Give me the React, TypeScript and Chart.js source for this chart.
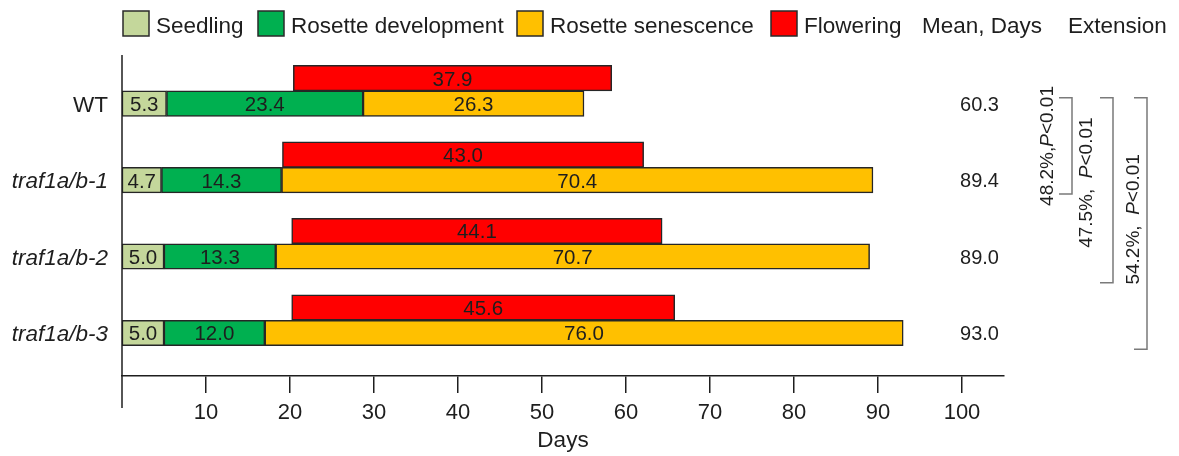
import React, { useEffect, useRef } from "react";
import { Chart, registerables } from "chart.js";

Chart.register(...registerables);

// ---------------- data ----------------
const genotypes = ["WT", "traf1a/b-1", "traf1a/b-2", "traf1a/b-3"];
const genotypeItalic = [false, true, true, true];
const seedlingDays = [5.3, 4.7, 5.0, 5.0];
const rosetteDevelopmentDays = [23.4, 14.3, 13.3, 12.0];
const rosetteSenescenceDays = [26.3, 70.4, 70.7, 76.0];
const floweringStart = [20.4, 19.1, 20.2, 20.2];
const floweringDays = [37.9, 43.0, 44.1, 45.6];
const meanDays = [60.3, 89.4, 89.0, 93.0];
const xTickValues = [10, 20, 30, 40, 50, 60, 70, 80, 90, 100];
const legendLabels = ["Seedling", "Rosette development", "Rosette senescence", "Flowering"];
const headerLabels = ["Mean, Days", "Extension"];
const extensionPercent = ["48.2%,", "47.5%,  ", "54.2%,  "];
const extensionP = ["P", "P", "P"];
const extensionRest = ["<0.01", "<0.01", "<0.01"];
const axisTitle = "Days";

// ---------------- style / layout ----------------
const FONT = '"Liberation Sans", Arial, Helvetica, sans-serif';
const INK = "#1e1e1e";
const BRACKET_COLOR = "#7a7a7a";
const COLORS = {
  seedling: "#C4D79B",
  development: "#00B050",
  senescence: "#FFC000",
  flowering: "#FF0000",
};
const legendColors = [COLORS.seedling, COLORS.development, COLORS.senescence, COLORS.flowering];
const LEGEND_BOX_X = [123, 258, 517, 771];
const HEADER_X = [922, 1068];
const BAR_THICKNESS = 25.5;
// bracket layout: y in row units (y-scale), x offsets from chart area right edge
const BRACKETS = [
  { top: 0.09, bottom: 1.35, lineDx: 68, textDx: 44, textY: 0.72 },
  { top: 0.09, bottom: 2.51, lineDx: 109, textDx: 83, textY: 1.2 },
  { top: 0.09, bottom: 3.38, lineDx: 143, textDx: 130, textY: 1.68 },
];

const font = (size: number, italic = false) => `${italic ? "italic " : ""}${size}px ${FONT}`;

function drawRotated(ctx: CanvasRenderingContext2D, cx: number, cy: number, parts: { text: string; italic: boolean }[], size: number) {
  ctx.save();
  ctx.translate(cx, cy);
  ctx.rotate(-Math.PI / 2);
  ctx.textBaseline = "middle";
  ctx.textAlign = "left";
  const widths = parts.map((p) => {
    ctx.font = font(size, p.italic);
    return ctx.measureText(p.text).width;
  });
  const total = widths.reduce((a, b) => a + b, 0);
  let x = -total / 2;
  parts.forEach((p, k) => {
    ctx.font = font(size, p.italic);
    ctx.fillText(p.text, x, 0);
    x += widths[k];
  });
  ctx.restore();
}

const overlay = {
  id: "overlay",
  afterDraw(chart: any) {
    const ctx: CanvasRenderingContext2D = chart.ctx;
    const ca = chart.chartArea;
    const ys = chart.scales.y;
    ctx.save();

    // y axis line (extends below the x axis)
    ctx.strokeStyle = INK;
    ctx.lineWidth = 1.5;
    ctx.beginPath();
    ctx.moveTo(ca.left, ca.top);
    ctx.lineTo(ca.left, ca.bottom + 32);
    ctx.stroke();

    ctx.fillStyle = INK;

    // bar value labels
    const valueSets = [floweringDays, seedlingDays, rosetteDevelopmentDays, rosetteSenescenceDays];
    ctx.textAlign = "center";
    ctx.textBaseline = "alphabetic";
    ctx.font = font(20.5);
    valueSets.forEach((vals, d) => {
      const meta = chart.getDatasetMeta(d);
      meta.data.forEach((el: any, i: number) => {
        const cx = (el.x + el.base) / 2;
        ctx.fillText(vals[i].toFixed(1), cx, el.y + 7.4);
      });
    });

    // genotype labels and mean values, aligned to the stage bars
    const stageMeta = chart.getDatasetMeta(1);
    stageMeta.data.forEach((el: any, i: number) => {
      ctx.textAlign = "right";
      ctx.font = font(22.5, genotypeItalic[i]);
      ctx.fillText(genotypes[i], ca.left - 14, el.y + 8.1);
      ctx.textAlign = "center";
      ctx.font = font(20);
      ctx.fillText(meanDays[i].toFixed(1), ca.right - 24.5, el.y + 7.2);
    });

    // significance brackets
    BRACKETS.forEach((b, k) => {
      const x = ca.right + b.lineDx;
      const y0 = ys.getPixelForValue(b.top);
      const y1 = ys.getPixelForValue(b.bottom);
      ctx.strokeStyle = BRACKET_COLOR;
      ctx.lineWidth = 1.5;
      ctx.beginPath();
      ctx.moveTo(x - 13, y0);
      ctx.lineTo(x, y0);
      ctx.lineTo(x, y1);
      ctx.lineTo(x - 13, y1);
      ctx.stroke();
      ctx.fillStyle = INK;
      drawRotated(
        ctx,
        ca.right + b.textDx,
        ys.getPixelForValue(b.textY),
        [
          { text: extensionPercent[k], italic: false },
          { text: extensionP[k], italic: true },
          { text: extensionRest[k], italic: false },
        ],
        19
      );
    });

    // legend
    ctx.textAlign = "left";
    ctx.textBaseline = "alphabetic";
    ctx.font = font(22.5);
    legendLabels.forEach((lab, k) => {
      const bx = LEGEND_BOX_X[k];
      ctx.fillStyle = legendColors[k];
      ctx.fillRect(bx, 11, 26, 25);
      ctx.strokeStyle = "#2a2a2a";
      ctx.lineWidth = 1.5;
      ctx.strokeRect(bx, 11, 26, 25);
      ctx.fillStyle = INK;
      ctx.fillText(lab, bx + 33, 33);
    });
    headerLabels.forEach((h, k) => {
      ctx.fillText(h, HEADER_X[k], 33);
    });

    ctx.restore();
  },
};

export default function App() {
  const ref = useRef<HTMLCanvasElement>(null);

  useEffect(() => {
    const canvas = ref.current;
    if (!canvas) return;
    const rows = genotypes.map((_, i) => i);
    const common = {
      borderColor: "#262626",
      borderWidth: 1.5,
      borderSkipped: false,
      barThickness: BAR_THICKNESS,
    };
    const chart = new Chart(canvas, {
      type: "bar",
      data: {
        datasets: [
          {
            label: "Flowering",
            stack: "flowering",
            data: rows.map((i) => ({ y: i, x: [floweringStart[i], floweringStart[i] + floweringDays[i]] })),
            backgroundColor: COLORS.flowering,
            ...common,
          },
          {
            label: "Seedling",
            stack: "stages",
            data: rows.map((i) => ({ y: i, x: seedlingDays[i] })),
            backgroundColor: COLORS.seedling,
            ...common,
          },
          {
            label: "Rosette development",
            stack: "stages",
            data: rows.map((i) => ({ y: i, x: rosetteDevelopmentDays[i] })),
            backgroundColor: COLORS.development,
            ...common,
          },
          {
            label: "Rosette senescence",
            stack: "stages",
            data: rows.map((i) => ({ y: i, x: rosetteSenescenceDays[i] })),
            backgroundColor: COLORS.senescence,
            ...common,
          },
        ] as any,
      },
      options: {
        responsive: false,
        animation: false,
        indexAxis: "y",
        layout: { padding: { left: 122, right: 175, top: 55, bottom: 0 } },
        plugins: {
          legend: { display: false },
          tooltip: { enabled: false },
        },
        scales: {
          y: {
            type: "linear",
            min: -0.47,
            max: 3.73,
            reverse: true,
            display: false,
            offset: false,
          },
          x: {
            type: "linear",
            stacked: true,
            position: "bottom",
            min: 0,
            max: 105,
            afterFit: (s: any) => {
              s.height = 80;
            },
            afterBuildTicks: (s: any) => {
              s.ticks = xTickValues.map((v) => ({ value: v }));
            },
            ticks: {
              color: INK,
              font: { family: FONT, size: 22 },
              padding: 7,
              maxRotation: 0,
              autoSkip: false,
            },
            grid: {
              drawOnChartArea: false,
              drawTicks: true,
              tickLength: 17,
              color: INK,
              lineWidth: 1.5,
            },
            border: { display: true, color: INK, width: 1.5 },
            title: {
              display: true,
              text: axisTitle,
              color: INK,
              font: { family: FONT, size: 22.5 },
              padding: { top: 0, bottom: 1.5 },
            },
          },
        },
      } as any,
      plugins: [overlay],
    });
    return () => chart.destroy();
  }, []);

  return (
    <div style={{ position: "absolute", left: 0, top: 0, width: 1179, height: 456, background: "#fff" }}>
      <canvas ref={ref} width={1179} height={456} style={{ display: "block", width: 1179, height: 456 }} />
    </div>
  );
}
